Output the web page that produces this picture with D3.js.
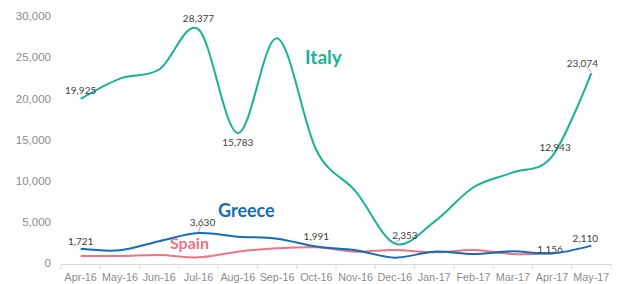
<!DOCTYPE html>
<html>
<head>
<meta charset="utf-8">
<script src="https://cdn.jsdelivr.net/npm/d3@7"></script>
<style>
  body { margin: 0; background: #fff; }
  svg { display: block; font-family: Lato, "Open Sans", sans-serif; }
  .axis text { fill: #8c8c8c; font-size: 11.5px; }
  .xaxis text { font-size: 10.8px; }
  .dlabel { fill: #404040; font-size: 10px; }
</style>
</head>
<body>
<div id="chart"></div>
<script>
// months along the bottom
var months = ["Apr-16", "May-16", "Jun-16", "Jul-16", "Aug-16", "Sep-16", "Oct-16",
              "Nov-16", "Dec-16", "Jan-17", "Feb-17", "Mar-17", "Apr-17", "May-17"];

// arrivals per month
var italy  = [19925, 22400, 23500, 28377, 15783, 27300, 13700, 8700, 2353, 5000, 9200, 11000, 12943, 23074];
var greece = [1721, 1550, 2650, 3630, 3200, 2950, 1991, 1550, 650, 1380, 1090, 1420, 1156, 2110];
var spain  = [850, 850, 970, 690, 1380, 1780, 1900, 1380, 1580, 1300, 1580, 1090, 1170, null];

var yTicks = [0, 5000, 10000, 15000, 20000, 25000, 30000];

// which points get a value label: [month index, dx, dy, leader line?]
var italyLabels  = [[0, 0, -8, false], [3, 0, -11, false], [4, 0, 9, true], [8, 10, -8, true], [12, 3, -9, false], [13, -9, -10, true]];
var greeceLabels = [[0, 0, -7, false], [3, 4, -11, true], [6, 0, -10, false], [12, -2, -4, false], [13, -6, -7, false]];

var width = 619, height = 284;

var x = d3.scaleBand().domain(months).range([61, 611]);
var y = d3.scaleLinear().domain([0, 30000]).range([263, 16]);
var fmt = d3.format(",");

var svg = d3.select("#chart").append("svg")
  .attr("width", width)
  .attr("height", height);

// y axis: labels only
var yAxis = svg.append("g")
  .attr("class", "axis")
  .attr("transform", "translate(51,0)")
  .call(d3.axisLeft(y).tickValues(yTicks).tickFormat(fmt).tickSize(0).tickPadding(0));
yAxis.select(".domain").remove();

// x axis with ticks between the months
var xAxis = svg.append("g")
  .attr("class", "axis xaxis")
  .attr("transform", "translate(0,264)")
  .call(d3.axisBottom(x).tickSize(0).tickPadding(9));
xAxis.select(".domain").attr("stroke", "#d9d9d9");
xAxis.selectAll(".sep")
  .data(months.concat(["end"]))
  .enter().append("line")
  .attr("class", "sep")
  .attr("x1", function(d, i) { return 61 + i * x.bandwidth(); })
  .attr("x2", function(d, i) { return 61 + i * x.bandwidth(); })
  .attr("y1", 0).attr("y2", 5)
  .attr("stroke", "#d9d9d9");

var cx = function(i) { return x(months[i]) + x.bandwidth() / 2; };

var line = d3.line()
  .defined(function(d) { return d != null; })
  .x(function(d, i) { return cx(i); })
  .y(function(d) { return y(d); })
  .curve(d3.curveCatmullRom.alpha(0));

var series = [
  {name: "Spain", values: spain, color: "#f07283"},
  {name: "Greece", values: greece, color: "#146db5"},
  {name: "Italy", values: italy, color: "#17b393"}
];

series.forEach(function(s) {
  svg.append("path")
    .datum(s.values)
    .attr("fill", "none")
    .attr("stroke", s.color)
    .attr("stroke-width", 2)
    .attr("d", line);
});

function addLabels(list, values) {
  list.forEach(function(l) {
    var px = cx(l[0]), py = y(values[l[0]]);
    var tx = px + l[1], ty = py + l[2];
    if (l[3]) {
      svg.append("line")
        .attr("x1", px + l[1] * 0.5).attr("y1", ty + (l[2] < 0 ? 4 : -7))
        .attr("x2", px).attr("y2", py - (l[2] < 0 ? 1 : -1))
        .attr("stroke", "#8c8c8c").attr("stroke-width", 0.8);
    }
    svg.append("text")
      .attr("class", "dlabel")
      .attr("x", tx).attr("y", ty)
      .attr("text-anchor", "middle")
      .attr("dy", "0.35em")
      .text(fmt(values[l[0]]));
  });
}
addLabels(italyLabels, italy);
addLabels(greeceLabels, greece);

// series names
svg.append("text").attr("x", 305).attr("y", 64)
  .attr("font-size", 19).attr("font-weight", "bold").attr("fill", "#17b393").text("Italy");
svg.append("text").attr("x", 218).attr("y", 217)
  .attr("font-size", 18).attr("font-weight", "bold").attr("fill", "#146db5").text("Greece");
svg.append("text").attr("x", 170).attr("y", 249)
  .attr("font-size", 16).attr("font-weight", "bold").attr("fill", "#f07283").text("Spain");
</script>
</body>
</html>
